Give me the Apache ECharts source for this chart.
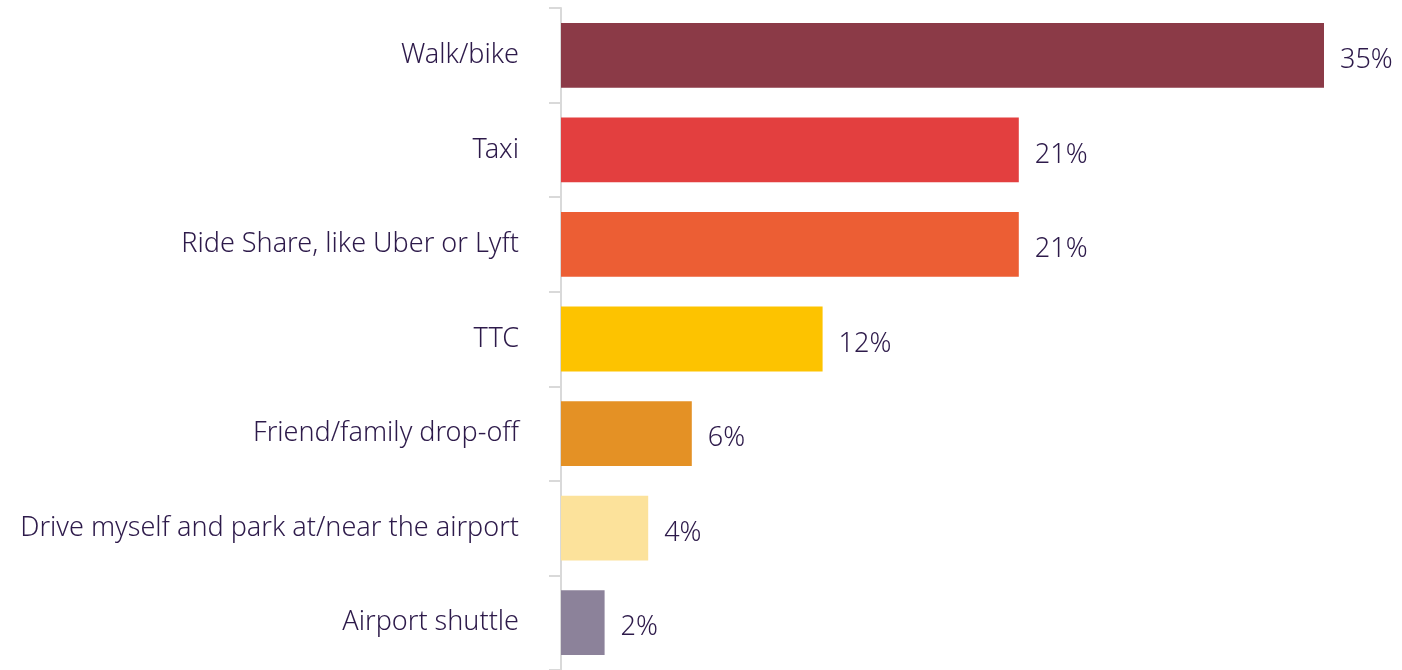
<!DOCTYPE html>
<html>
<head>
<meta charset="utf-8">
<script src="https://cdn.jsdelivr.net/npm/echarts@6/dist/echarts.min.js"></script>
<style>html,body{margin:0;padding:0;background:#fff;}#c{width:1402px;height:670px;}</style>
</head>
<body>
<div id="c"></div>
<script>
const categories = ["Walk/bike","Taxi","Ride Share, like Uber or Lyft","TTC","Friend/family drop-off","Drive myself and park at/near the airport","Airport shuttle"];
const values = [35,21,21,12,6,4,2];
const colors = ["#8B3A47","#E33F3F","#EC5E34","#FDC300","#E49125","#FCE29B","#8C829A"];

const FONT = '"Noto Sans", "Liberation Sans", Arial, sans-serif';
const chart = echarts.init(document.getElementById('c'), null, {renderer:'canvas'});
chart.setOption({
  animation:false,
  grid:{left:561, top:8, width:763, height:665},
  xAxis:{type:'value', min:0, max:35, show:false},
  yAxis:{
    type:'category', data:categories, inverse:true,
    axisLine:{show:true, lineStyle:{color:'#d9d9d9', width:2}},
    axisTick:{show:true, length:12, lineStyle:{color:'#d9d9d9', width:2}},
    axisLabel:{color:'#2d1a4a', fontSize:27, fontWeight:300, fontFamily:FONT, margin:42, padding:[0,0,8,0]}
  },
  series:[{
    type:'bar', data:values.map((v,i)=>({value:v, itemStyle:{color:colors[i]}})),
    barCategoryGap:'31.5%',
    label:{show:true, position:'right', distance:16, offset:[0,5], formatter:'{c}%', color:'#2d1a4a', fontSize:27, fontWeight:300, fontFamily:FONT}
  }]
});
</script>
</body>
</html>
